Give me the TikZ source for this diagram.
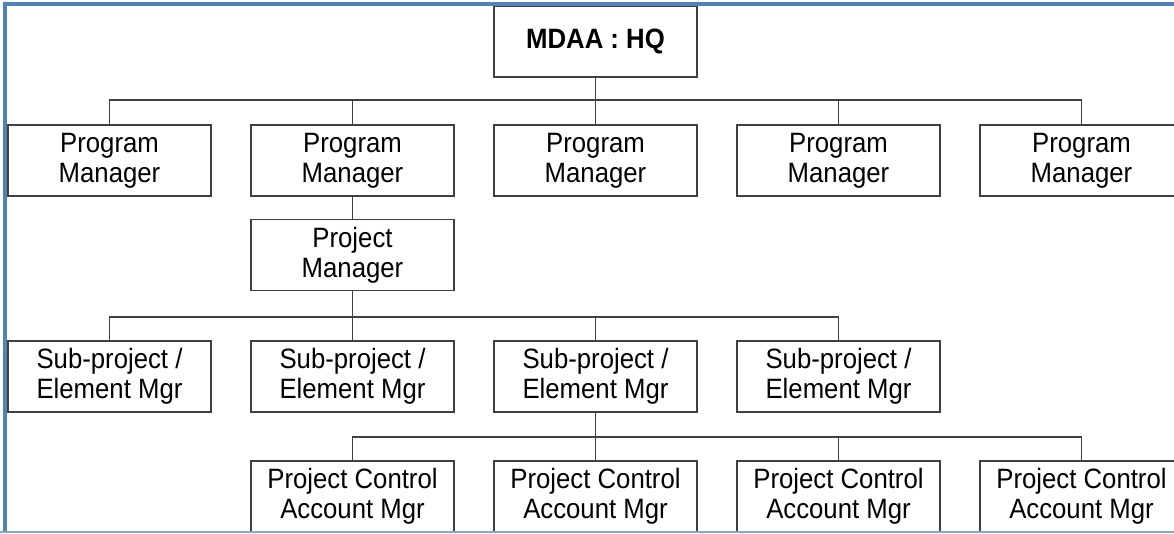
\documentclass[tikz,border=0pt]{standalone}
\usepackage{fontspec}
\setmainfont{Liberation Sans}[FakeStretch=0.92]
\usetikzlibrary{calc}
\definecolor{frameblue}{RGB}{79,129,189}
\definecolor{linegray}{RGB}{64,64,64}
\tikzset{
	unit/.style = {draw = linegray, line width = 1pt, rectangle, minimum width = 5.075cm, minimum height = 1.775cm, align = center, inner sep = 0pt},
	link/.style = {draw = linegray, line width = 1pt},
}

\begin{document}
\begin{tikzpicture}[font = {\fontsize{19.9pt}{21.3pt}\selectfont}]
\useasboundingbox (0,0) rectangle (29.35, 13.325);
\clip (0,0) rectangle (29.35, 13.325);

\node[unit, font = {\fontsize{19.9pt}{21.3pt}\selectfont\bfseries}] (HQ) at (14.8875, 12.2875) {MDAA : HQ};

% program managers
\foreach \n/\x in {1/2.7375, 2/8.8125, 3/14.8875, 4/20.9625, 5/27.0375}
	\node[unit] (PM\n) at (\x, 9.3125) {Program \\ Manager};

\node[unit] (PjM) at (8.8125, 6.95) {Project \\ Manager};

% sub-projects
\foreach \n/\x in {1/2.7375, 2/8.8125, 3/14.8875, 4/20.9625}
	\node[unit] (SP\n) at (\x, 3.9125) {Sub-project / \\ Element Mgr};

% control accounts
\foreach \n/\x in {1/8.8125, 2/14.8875, 3/20.9625, 4/27.0375}
	\node[unit] (PCA\n) at (\x, 0.9125) {Project Control \\ Account Mgr};

\coordinate (BusA) at (0, 10.825);
\coordinate (BusB) at (0, 5.4);
\coordinate (BusC) at (0, 2.4);

\draw[link] (HQ.south) -- (PM3.north);
\draw[link] (PM1.north) |- (BusA -| PM5.north) -- (PM5.north);
\foreach \n in {2, 4}
	\draw[link] (PM\n.north) -- (PM\n.north |- BusA);

\draw[link] (PM2.south) -- (PjM.north);
\draw[link] (PjM.south) -- (SP2.north);
\draw[link] (SP1.north) |- (BusB -| SP4.north) -- (SP4.north);
\draw[link] (SP3.north) -- (SP3.north |- BusB);

\draw[link] (SP3.south) -- (PCA2.north);
\draw[link] (PCA1.north) |- (BusC -| PCA4.north) -- (PCA4.north);
\draw[link] (PCA3.north) -- (PCA3.north |- BusC);

% frame
\draw[frameblue, line width = 0.1cm] (0.125, 0) -- (0.125, 13.225) -- (29.35, 13.225);
\draw[frameblue!70, line width = 0.05cm] (0, 0.025) -- (29.35, 0.025);
\end{tikzpicture}
\end{document}
